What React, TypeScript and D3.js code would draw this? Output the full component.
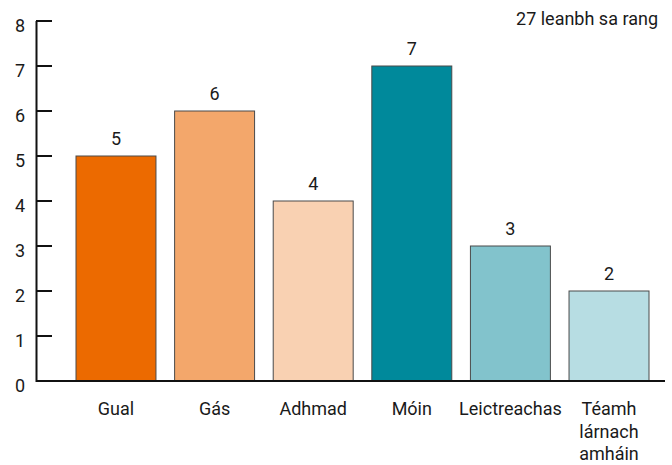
import React from 'react';
import * as d3 from 'd3';

const categories = ['Gual', 'Gás', 'Adhmad', 'Móin', 'Leictreachas', 'Téamh lárnach amháin'];
const labelLines = [['Gual'], ['Gás'], ['Adhmad'], ['Móin'], ['Leictreachas'], ['Téamh', 'lárnach', 'amháin']];
const values = [5, 6, 4, 7, 3, 2];
const colors = ['#ec6a00', '#f3a76b', '#f9d1b2', '#00899b', '#82c3cc', '#b7dde3'];
const yTicks = [0, 1, 2, 3, 4, 5, 6, 7, 8];
const note = '27 leanbh sa rang';

const width = 672;
const height = 465;
const font = 'Roboto, "DejaVu Sans", sans-serif';

const App = () => {
    const x = d3.scaleBand<string>()
        .domain(categories)
        .range([76, 649])
        .paddingInner(0.189)
        .paddingOuter(0);
    const y = d3.scaleLinear().domain([0, 8]).range([381, 21]);

    return (
        <svg width={width} height={height}
             style={{ position: 'absolute', left: 0, top: 0, fontFamily: font }}>
            <rect width={width} height={height} fill="#fff" />

            {categories.map((c, i) => (
                <g key={c}>
                    <rect x={x(c)} y={y(values[i])}
                          width={x.bandwidth()} height={y(0) - y(values[i])}
                          fill={colors[i]} stroke="#4a4a4a" strokeWidth={1} />
                    <text x={(x(c) as number) + x.bandwidth() / 2} y={y(values[i]) - 11}
                          textAnchor="middle" fontSize={18} fill="#1a1a1a">{values[i]}</text>
                    {labelLines[i].map((line, j) => (
                        <text key={j} x={(x(c) as number) + x.bandwidth() / 2} y={415 + j * 22.5}
                              textAnchor="middle" fontSize={18} fill="#1a1a1a">{line}</text>
                    ))}
                </g>
            ))}

            {/* y axis */}
            <line x1={36.5} x2={36.5} y1={y(8)} y2={y(0) + 1} stroke="#111" strokeWidth={2} />
            {yTicks.map(t => (
                <g key={t}>
                    <line x1={36} x2={52} y1={y(t)} y2={y(t)} stroke="#111" strokeWidth={2} />
                    <text x={20} y={y(t) + 11} textAnchor="middle"
                          fontSize={18} fill="#1a1a1a">{t}</text>
                </g>
            ))}
            {/* x axis */}
            <line x1={36} x2={665} y1={y(0)} y2={y(0)} stroke="#111" strokeWidth={2} />

            <text x={658} y={25} textAnchor="end" fontSize={18} fill="#1a1a1a">{note}</text>
        </svg>
    );
};

export default App;
